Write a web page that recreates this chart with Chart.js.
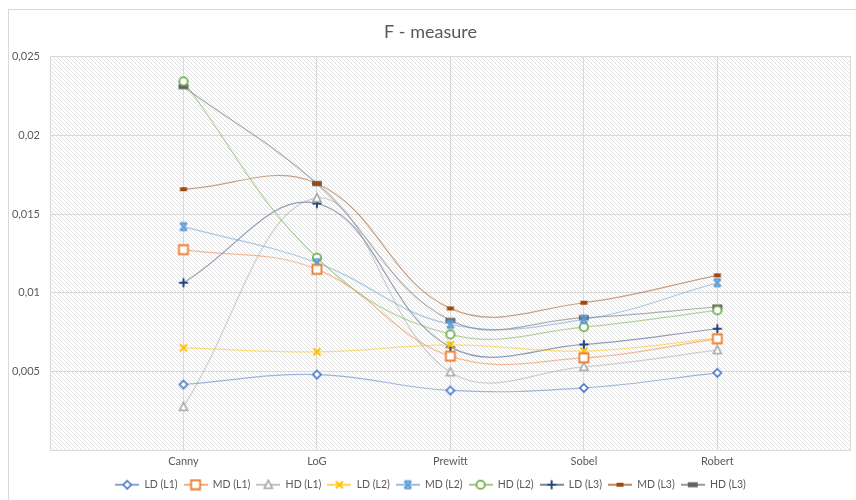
<!DOCTYPE html>
<html>
<head>
<meta charset="utf-8">
<script src="https://cdn.jsdelivr.net/npm/chart.js@4/dist/chart.umd.min.js"></script>
<style>
  body { margin: 0; background: #fff; }
  canvas { display: block; }
</style>
</head>
<body>
<canvas id="chart" width="856" height="500"></canvas>
<script>
const categories = ["Canny", "LoG", "Prewitt", "Sobel", "Robert"];
const seriesNames = ["LD (L1)", "MD (L1)", "HD (L1)", "LD (L2)", "MD (L2)", "HD (L2)", "LD (L3)", "MD (L3)", "HD (L3)"];
const yTicks = [0, 0.005, 0.01, 0.015, 0.02, 0.025];

const ldL1 = [0.00418, 0.00481, 0.0038, 0.00396, 0.00492];
const mdL1 = [0.01274, 0.01149, 0.00598, 0.00587, 0.00708];
const hdL1 = [0.00276, 0.01601, 0.00496, 0.0053, 0.00636];
const ldL2 = [0.00651, 0.00625, 0.0067, 0.0063, 0.00712];
const mdL2 = [0.0142, 0.01191, 0.008, 0.00831, 0.01064];
const hdL2 = [0.02343, 0.01223, 0.00736, 0.00782, 0.00889];
const ldL3 = [0.01064, 0.01567, 0.00655, 0.00672, 0.00772];
const mdL3 = [0.01658, 0.01694, 0.00901, 0.00937, 0.01111];
const hdL3 = [0.02309, 0.01694, 0.00825, 0.00842, 0.0091];

const allValues = [ldL1, mdL1, hdL1, ldL2, mdL2, hdL2, ldL3, mdL3, hdL3];
const colors = ["#4472C4", "#ED7D31", "#A5A5A5", "#FFC000", "#5B9BD5", "#70AD47", "#264478", "#9E480E", "#636363"];
const markers = ["diamond", "square", "triangle", "xcross", "xbar", "circle", "plus", "dashS", "dashL"];

// draws one marker centered on (cx, cy)
function drawMarker(ctx, kind, color, cx, cy) {
  ctx.strokeStyle = color;
  ctx.fillStyle = "#fff";
  ctx.lineWidth = 1.6;
  ctx.beginPath();
  if (kind === "diamond") {
    ctx.moveTo(cx, cy - 4); ctx.lineTo(cx + 4, cy); ctx.lineTo(cx, cy + 4); ctx.lineTo(cx - 4, cy); ctx.closePath();
    ctx.fill(); ctx.stroke();
  } else if (kind === "square") {
    ctx.lineWidth = 1.8;
    ctx.rect(cx - 4.5, cy - 4.5, 9, 9);
    ctx.fill(); ctx.stroke();
  } else if (kind === "triangle") {
    ctx.moveTo(cx, cy - 4.5); ctx.lineTo(cx + 4, cy + 3.5); ctx.lineTo(cx - 4, cy + 3.5); ctx.closePath();
    ctx.fill(); ctx.stroke();
  } else if (kind === "xcross") {
    ctx.lineWidth = 2;
    ctx.moveTo(cx - 3.5, cy - 3.5); ctx.lineTo(cx + 3.5, cy + 3.5);
    ctx.moveTo(cx + 3.5, cy - 3.5); ctx.lineTo(cx - 3.5, cy + 3.5);
    ctx.stroke();
  } else if (kind === "xbar") {
    ctx.lineWidth = 1.8;
    ctx.moveTo(cx - 3.5, cy - 3.5); ctx.lineTo(cx + 3.5, cy + 3.5);
    ctx.moveTo(cx + 3.5, cy - 3.5); ctx.lineTo(cx - 3.5, cy + 3.5);
    ctx.moveTo(cx - 3.5, cy - 3.5); ctx.lineTo(cx + 3.5, cy - 3.5);
    ctx.moveTo(cx - 3.5, cy + 3.5); ctx.lineTo(cx + 3.5, cy + 3.5);
    ctx.stroke();
  } else if (kind === "circle") {
    ctx.lineWidth = 1.8;
    ctx.arc(cx, cy, 4.2, 0, Math.PI * 2);
    ctx.fill(); ctx.stroke();
  } else if (kind === "plus") {
    ctx.lineWidth = 2;
    ctx.moveTo(cx, cy - 4.5); ctx.lineTo(cx, cy + 4.5);
    ctx.moveTo(cx - 4.5, cy); ctx.lineTo(cx + 4.5, cy);
    ctx.stroke();
  } else if (kind === "dashS") {
    ctx.fillStyle = color;
    ctx.fillRect(cx - 3.5, cy - 2, 7, 4);
  } else if (kind === "dashL") {
    ctx.fillStyle = color;
    ctx.fillRect(cx - 5, cy - 2.5, 10, 5);
  }
}

function markerImage(kind, color) {
  const c = document.createElement("canvas");
  c.width = 14; c.height = 14;
  drawMarker(c.getContext("2d"), kind, color, 7, 7);
  return c;
}

function legendImage(kind, color) {
  const c = document.createElement("canvas");
  c.width = 24; c.height = 12;
  const ctx = c.getContext("2d");
  ctx.strokeStyle = color;
  ctx.lineWidth = 1.3;
  ctx.beginPath();
  ctx.moveTo(0, 6); ctx.lineTo(24, 6);
  ctx.stroke();
  drawMarker(ctx, kind, color, 12, 6);
  return c;
}

function fade(hex, a) {
  const n = parseInt(hex.slice(1), 16);
  return "rgba(" + (n >> 16) + "," + ((n >> 8) & 255) + "," + (n & 255) + "," + a + ")";
}

// hatched plot background + outer frame
function makeHatch() {
  const c = document.createElement("canvas");
  c.width = 4; c.height = 4;
  const ctx = c.getContext("2d");
  ctx.fillStyle = "#ffffff";
  ctx.fillRect(0, 0, 4, 4);
  ctx.strokeStyle = "#e2e2e2";
  ctx.lineWidth = 1;
  ctx.beginPath();
  ctx.moveTo(-1, -1); ctx.lineTo(5, 5);
  ctx.moveTo(-1, 3); ctx.lineTo(1, 5);
  ctx.moveTo(3, -1); ctx.lineTo(5, 1);
  ctx.stroke();
  return c;
}

const backdrop = {
  id: "backdrop",
  beforeDraw(chart) {
    const { ctx, chartArea } = chart;
    ctx.save();
    ctx.strokeStyle = "#d9d9d9";
    ctx.lineWidth = 1;
    ctx.strokeRect(8.5, 9.5, 900, 600);
    ctx.fillStyle = ctx.createPattern(makeHatch(), "repeat");
    ctx.fillRect(chartArea.left, chartArea.top, chartArea.right - chartArea.left, chartArea.bottom - chartArea.top);
    ctx.restore();
  }
};

const datasets = seriesNames.map((name, i) => ({
  label: name,
  data: allValues[i].map((v, k) => ({ x: k, y: v })),
  borderColor: fade(colors[i], 0.5),
  backgroundColor: colors[i],
  borderWidth: 1.2,
  tension: 0.4,
  pointStyle: markerImage(markers[i], colors[i]),
  legendIcon: legendImage(markers[i], colors[i]),
}));

const textColor = "#595959";
const gridColor = "#d9d9d9";

new Chart(document.getElementById("chart"), {
  type: "line",
  data: { datasets },
  plugins: [backdrop],
  options: {
    responsive: false,
    animation: false,
    layout: { padding: { left: 8, right: 3, top: 0, bottom: 0 } },
    plugins: {
      title: {
        display: true,
        text: "F - measure",
        color: textColor,
        font: { family: "Lato", size: 18, weight: "normal" },
        padding: { top: 21, bottom: 14 },
      },
      legend: {
        position: "bottom",
        labels: {
          color: textColor,
          font: { family: "Lato", size: 10.5 },
          usePointStyle: true,
          pointStyleWidth: 24,
          padding: 6,
          generateLabels(chart) {
            return chart.data.datasets.map((ds, i) => ({
              text: ds.label,
              pointStyle: ds.legendIcon,
              fontColor: textColor,
              strokeStyle: ds.backgroundColor,
              fillStyle: ds.backgroundColor,
              lineWidth: 0,
              datasetIndex: i,
              hidden: false,
            }));
          },
        },
      },
      tooltip: { enabled: false },
    },
    scales: {
      x: {
        type: "linear",
        min: -1,
        max: 5,
        ticks: {
          stepSize: 1,
          color: textColor,
          font: { family: "Lato", size: 11 },
          padding: 5,
          callback: (v) => categories[v] ?? "",
        },
        grid: { color: gridColor, drawTicks: false },
        border: { color: gridColor },
      },
      y: {
        min: 0,
        max: 0.025,
        afterFit(scale) { scale.width = 42; },
        afterBuildTicks(scale) { scale.ticks = yTicks.map((v) => ({ value: v })); },
        ticks: {
          color: textColor,
          font: { family: "Lato", size: 11 },
          padding: 10,
          callback: (v) => (v === 0 ? "" : String(parseFloat(v.toFixed(3))).replace(".", ",")),
        },
        grid: { color: gridColor, drawTicks: false },
        border: { color: gridColor },
      },
    },
  },
});
</script>
</body>
</html>
